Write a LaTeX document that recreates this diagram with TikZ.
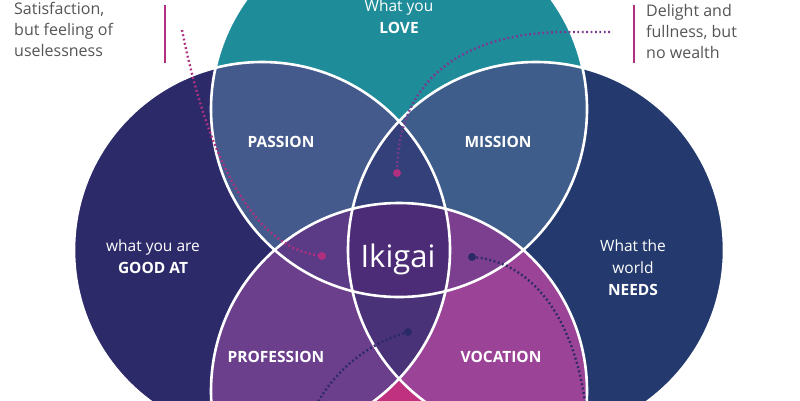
\documentclass[tikz,border=0pt]{standalone}
\usepackage{fontspec}
\setmainfont{Open Sans}
\definecolor{cT}{HTML}{1F8C9A}
\definecolor{cL}{HTML}{2D2A6A}
\definecolor{cR}{HTML}{243A6E}
\definecolor{cB}{HTML}{C0327F}
\definecolor{cTL}{HTML}{445A8C}
\definecolor{cTR}{HTML}{3E5D8A}
\definecolor{cTLR}{HTML}{33407A}
\definecolor{cBL}{HTML}{6B3F8B}
\definecolor{cBR}{HTML}{9B4497}
\definecolor{cBLR}{HTML}{4A3279}
\definecolor{cTBL}{HTML}{5B3A86}
\definecolor{cTBR}{HTML}{7C3F8F}
\definecolor{cIK}{HTML}{4C2C76}
\definecolor{cMag}{HTML}{B0307F}
\definecolor{cPur}{HTML}{7B3A8F}
\definecolor{cDark}{HTML}{2A2A66}
\definecolor{cTxt}{HTML}{555555}
\tikzset{
 lab/.style={text=white,font=\fontsize{15.5}{22}\selectfont,align=center,inner sep=0pt},
 side/.style={text=cTxt,font=\fontsize{16}{21}\selectfont,align=left,anchor=north west,inner sep=0pt},
 dots/.style={line width=2.4pt,dash pattern=on 1.8pt off 2.6pt},
 ring/.style={draw=white,line width=2.6pt}
}
\begin{document}
\begin{tikzpicture}[x=1pt,y=-1pt]
\useasboundingbox (0,0) rectangle (800,400);
\clip (0,0) rectangle (800,400);
\fill[white] (0,0) rectangle (800,400);
\def\r{188}
\coordinate (T) at (399,109);
\coordinate (L) at (262,250);
\coordinate (R) at (536,250);
\coordinate (B) at (399,391);
\fill[cL] (L) circle (\r);
\fill[cR] (R) circle (\r);
\fill[cT] (T) circle (\r);
\fill[cB] (B) circle (\r);
\begin{scope}\clip (L) circle (\r); \fill[cTL] (T) circle (\r);\end{scope}
\begin{scope}\clip (R) circle (\r); \fill[cTR] (T) circle (\r);\end{scope}
\begin{scope}\clip (L) circle (\r); \fill[cBL] (B) circle (\r);\end{scope}
\begin{scope}\clip (R) circle (\r); \fill[cBR] (B) circle (\r);\end{scope}
\begin{scope}\clip (L) circle (\r); \clip (R) circle (\r); \fill[cTLR] (T) circle (\r); \fill[cBLR] (B) circle (\r);\end{scope}
\begin{scope}\clip (L) circle (\r); \clip (T) circle (\r); \fill[cTBL] (B) circle (\r);\end{scope}
\begin{scope}\clip (R) circle (\r); \clip (T) circle (\r); \fill[cTBR] (B) circle (\r);\end{scope}
\begin{scope}\clip (L) circle (\r); \clip (R) circle (\r); \clip (T) circle (\r); \fill[cIK] (B) circle (\r);\end{scope}
\foreach \c in {T,L,R,B} \draw[ring] (\c) circle (\r);
% bars
\draw[cMag,line width=2pt] (165,5) -- (165,63);
\draw[cMag,line width=2pt] (634,5) -- (634,63);
% texts
\node[lab] (love) at (399,17) {What you\\\textbf{LOVE}};
\node[lab] (passion) at (281,142) {\textbf{PASSION}};
\node[lab] (mission) at (498,142) {\textbf{MISSION}};
\node[lab] (good) at (153,257) {what you are\\\textbf{GOOD AT}};
\node[lab] (needs) at (633,268) {What the\\world\\\textbf{NEEDS}};
\node[lab,font=\fontsize{31}{34}\selectfont] (iki) at (398,259) {Ikigai};
\node[lab] (prof) at (276,357) {\textbf{PROFESSION}};
\node[lab] (voc) at (501,357) {\textbf{VOCATION}};
\node[side] (sat) at (14,2) {Satisfaction,\\but feeling of\\uselessness};
\node[side] (del) at (646,4) {Delight and\\fullness, but\\no wealth};
% dotted connectors
\coordinate (m1) at (182,30);
\coordinate (m2) at (322,256);
\draw[dots,cMag] (m1) .. controls (200,120) and (240,248) .. (m2);
\fill[cMag] (m2) circle (4);
\coordinate (p1) at (610,32);
\coordinate (p2) at (397,173);
\draw[dots,cPur] (p1) -- (560,32) .. controls (450,35) and (397,90) .. (p2);
\fill[cMag] (p2) circle (4);
\coordinate (d1) at (472,257);
\coordinate (d2) at (585,402);
\draw[dots,cDark] (d1) .. controls (540,262) and (575,330) .. (d2);
\fill[cDark] (d1) circle (4);
\coordinate (e1) at (408,332);
\coordinate (e2) at (318,402);
\draw[dots,cDark] (e1) .. controls (360,345) and (330,380) .. (e2);
\fill[cDark] (e1) circle (4);
\end{tikzpicture}
\end{document}
